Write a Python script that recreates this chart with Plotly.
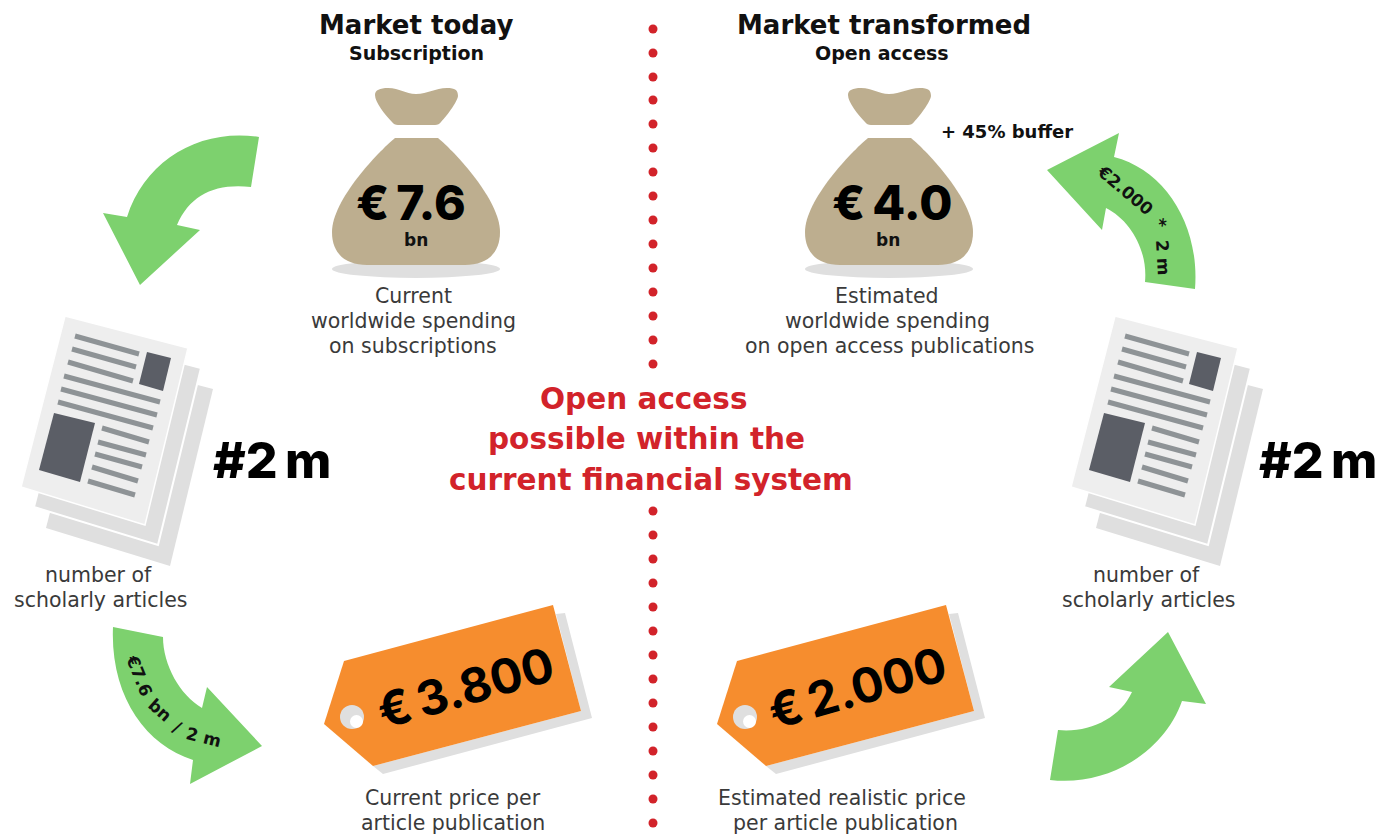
import plotly.graph_objects as go

GREEN, TAN, ORANGE, RED = "#7dd16e", "#bdae8f", "#f68d2e", "#d2232a"
BACK, SHEET, BAR, DARK = "#dfdfdf", "#eeeeee", "#8e9396", "#5b5e66"
HEAVY = "DejaVu Sans"
NUM = "Inter"
BODY = "DejaVu Sans"

headings = [("Market today", 416, 25), ("Market transformed", 884, 25)]
subheadings = [("Subscription", 416, 53), ("Open access", 882, 53)]
bag_values = [("€\u20097.6", 411, 202), ("€\u20094.0", 892, 202)]
bag_units = [("bn", 416, 240), ("bn", 888, 240)]
price_values = [("€\u20093.800", 465, 687), ("€\u20092.000", 857, 687)]
counts = [("#2\u2009m", 272, 460), ("#2\u2009m", 1318, 460)]
center_lines = [("Open access", 643, 399), ("possible within the", 646, 439),
                ("current financial system", 651, 480)]
captions = [("Current", 413, 296), ("worldwide spending", 413, 321), ("on subscriptions", 413, 346),
            ("Estimated", 887, 296), ("worldwide spending", 887, 321),
            ("on open access publications", 890, 346),
            ("number of", 98, 575), ("scholarly articles", 101, 600),
            ("number of", 1146, 575), ("scholarly articles", 1149, 600),
            ("Current price per", 453, 798), ("article publication", 453, 823),
            ("Estimated realistic price", 842, 798), ("per article publication", 845, 823)]
curved_labels = [("€7.6", 139, 675, 68), ("bn", 160, 710, 42), ("/", 177, 727, 30), ("2 m", 203, 737, 14),
                 ("€2.000", 1125, 190, 40), ("*", 1160, 223, 70), ("2 m", 1163, 257, 87)]
dots_y = [29, 53, 77, 100, 124, 148, 172, 196, 220, 244, 268, 292, 316, 340, 364,
          511, 535, 559, 583, 607, 631, 655, 679, 703, 727, 751, 775, 799, 823]

sheet = [(65, 316), (188, 348), (145, 525), (21, 487)]
rows = [((75, 336), (139, 354)), ((72, 349), (136, 367)), ((68, 362), (133, 381)),
        ((64, 376), (160, 402)), ((61, 389), (157, 415)), ((58, 402), (153, 428)),
        ((102, 428), (149, 442)), ((98, 442), (146, 455)), ((95, 454), (142, 467)),
        ((92, 467), (138, 481)), ((88, 481), (135, 495))]
block_small = [(147, 352), (171, 358), (163, 391), (139, 384)]
block_large = [(54, 413), (95, 423), (80, 482), (39, 470)]
tag = [(553, 605), (581, 711), (373, 766), (324, 724), (344, 661)]
tag_shadow = [(556, 614), (565, 613), (592, 718), (383, 774), (373, 766), (581, 711)]
arrows = [
    "M259,137 C200,128 145,160 127,217 L103,213 L140,285 L200,230 L177,225 C190,195 215,183 251,187 Z",
    "M113,627 L163,637 C163,665 180,695 202,708 L207,687 L262,746 L190,784 L193,760 C145,745 110,695 113,627 Z",
    "M1047,170 L1119,133 L1114,157 C1165,170 1200,225 1195,289 L1145,282 C1148,250 1130,220 1106,208 L1102,230 Z",
    "M1058,730 C1090,733 1120,718 1132,692 L1109,687 L1168,632 L1206,704 L1182,701 C1165,750 1110,787 1050,780 Z",
]


def poly(points, dx=0, dy=0):
    return "M" + " L".join(f"{x + dx},{y + dy}" for x, y in points) + " Z"


def bag_knot(d):
    return (f"M{375+d},95 C{375+d},90 {380+d},88 {388+d},88 C{400+d},88 {405+d},94 {416+d},94 "
            f"C{428+d},94 {435+d},88 {447+d},88 C{455+d},88 {458+d},90 {458+d},96 "
            f"C{458+d},100 {448+d},115 {441+d},122 Q{439+d},125 {435+d},125 L{398+d},125 "
            f"Q{394+d},125 {392+d},122 C{385+d},115 {375+d},102 {375+d},95 Z")


def bag_body(d):
    return (f"M{395+d},138 L{438+d},138 C{455+d},152 {500+d},200 {500+d},232 "
            f"C{500+d},255 {485+d},265 {465+d},265 L{367+d},265 C{347+d},265 {332+d},255 {332+d},232 "
            f"C{332+d},200 {378+d},152 {395+d},138 Z")


shapes = []


def add_path(path, fill, line=None, width=0):
    shapes.append(dict(type="path", path=path, fillcolor=fill, xref="x", yref="y",
                       line=dict(color=line or fill, width=width), layer="above"))


for a in arrows:
    add_path(a, GREEN)

for dx in (0, 473):
    shapes.append(dict(type="circle", xref="x", yref="y", x0=332 + dx, x1=500 + dx, y0=260, y1=278,
                       fillcolor=BACK, line=dict(width=0), layer="above"))
    add_path(bag_knot(dx), TAN)
    add_path(bag_body(dx), TAN)

for dx in (0, 1050):
    add_path(poly(sheet, dx + 25, 41), BACK, "white", 0)
    add_path(poly(sheet, dx + 13, 20), BACK, "white", 2)
    add_path(poly(sheet, dx), SHEET, "white", 1.5)
    for (x0, y0), (x1, y1) in rows:
        shapes.append(dict(type="line", xref="x", yref="y", x0=x0 + dx, y0=y0, x1=x1 + dx, y1=y1,
                           line=dict(color=BAR, width=5), layer="above"))
    add_path(poly(block_small, dx), DARK)
    add_path(poly(block_large, dx), DARK)

for dx in (0, 393):
    add_path(poly(tag_shadow, dx), BACK)
    add_path(poly(tag, dx), ORANGE)
    shapes.append(dict(type="circle", xref="x", yref="y", x0=340 + dx, x1=364 + dx, y0=705, y1=729,
                       fillcolor=BACK, line=dict(width=0), layer="above"))
    shapes.append(dict(type="circle", xref="x", yref="y", x0=350 + dx, x1=363 + dx, y0=715, y1=728,
                       fillcolor="white", line=dict(width=0), layer="above"))

annotations = []


def add_text(items, size, color, weight, angle=0, family=BODY):
    for item in items:
        text, x, y = item[:3]
        a = item[3] if len(item) > 3 else angle
        annotations.append(dict(text=text, x=x, y=y, xref="x", yref="y", showarrow=False,
                                xanchor="center", yanchor="middle", textangle=a,
                                font=dict(family=family, size=size, color=color, weight=weight)))


add_text(headings, 26, "#111111", 700, family=HEAVY)
add_text(subheadings, 19, "#111111", 700, family=HEAVY)
add_text(bag_values, 48, "#000000", 800, family=NUM)
add_text(bag_units, 17, "#111111", 700, family=HEAVY)
add_text(price_values, 48, "#000000", 700, angle=-16, family=NUM)
add_text(counts, 50, "#000000", 800, family=NUM)
add_text(center_lines, 29.5, RED, 700, family=HEAVY)
add_text(captions, 20.5, "#3a3a3a", 400)
add_text([("+ 45% buffer", 1007, 131)], 18, "#111111", 700, family=HEAVY)
add_text(curved_labels, 17, "#111111", 700, family=HEAVY)

fig = go.Figure(go.Scatter(x=[653] * len(dots_y), y=dots_y, mode="markers",
                           marker=dict(color=RED, size=9), hoverinfo="skip", showlegend=False))
fig.update_layout(width=1379, height=834, margin=dict(l=0, r=0, t=0, b=0),
                  paper_bgcolor="white", plot_bgcolor="white", shapes=shapes, annotations=annotations,
                  xaxis=dict(range=[0, 1379], visible=False, fixedrange=True),
                  yaxis=dict(range=[834, 0], visible=False, fixedrange=True))
fig.write_html("out.html", config={"displayModeBar": False},
               post_script='document.body.style.margin="0";document.body.style.overflow="hidden";')
